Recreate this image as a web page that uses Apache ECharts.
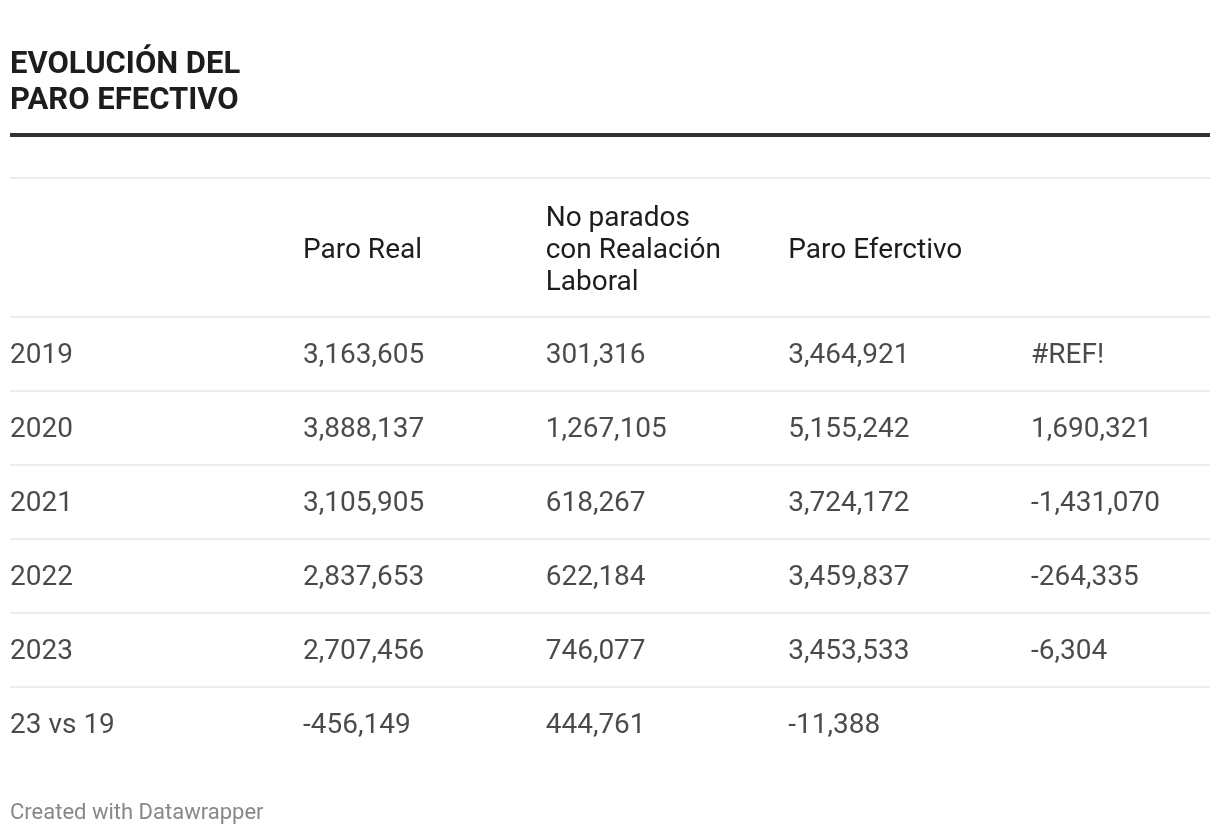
<!DOCTYPE html>
<html>
<head>
<meta charset="utf-8">
<script src="https://cdn.jsdelivr.net/npm/echarts@6/dist/echarts.min.js"></script>
<style>
html,body{margin:0;padding:0;background:#fff;}
#chart{width:1220px;height:836px;}
</style>
</head>
<body>
<div id="chart"></div>
<script>
// ---- data ----
const titleText = 'EVOLUCIÓN DEL\nPARO EFECTIVO';
const footerText = 'Created with Datawrapper';
const rowLabels = ['2019', '2020', '2021', '2022', '2023', '23 vs 19'];
const columnHeaders = ['Paro Real', 'No parados\ncon Realación\nLaboral', 'Paro Eferctivo', ''];
const paroReal = [3163605, 3888137, 3105905, 2837653, 2707456, -456149];
const noParados = [301316, 1267105, 618267, 622184, 746077, 444761];
const paroEfectivo = [3464921, 5155242, 3724172, 3459837, 3453533, -11388];
const variacion = ['#REF!', 1690321, -1431070, -264335, -6304, null];

const columnsData = [paroReal, noParados, paroEfectivo, variacion];

const FONT = 'Roboto';
const TEXT = '#1d1d1d';
const FS = 28;
const fmt = v => typeof v === 'number' ? v.toLocaleString('en-US') : String(v);

const cellLabel = {
  show: true,
  position: 'inside',
  align: 'left',
  verticalAlign: 'middle',
  offset: [0, 2],
  fontFamily: FONT,
  fontSize: FS,
  color: TEXT,
  formatter: p => fmt(p.data[2])
};

const series = columnsData.map((col, k) => ({
  type: 'scatter',
  xAxisIndex: 1,
  yAxisIndex: 1,
  symbolSize: 1,
  itemStyle: { color: 'rgba(0,0,0,0)' },
  silent: true,
  data: col.map((v, i) => v === null ? null : [k, i, v]).filter(d => d !== null),
  label: cellLabel
}));

// row-label column (first column of the table), placed at the left edge of the full-width grid
series.push({
  type: 'scatter',
  xAxisIndex: 0,
  yAxisIndex: 0,
  symbolSize: 1,
  itemStyle: { color: 'rgba(0,0,0,0)' },
  silent: true,
  data: rowLabels.map((r, i) => [0, i, r]),
  label: cellLabel
});

const chart = echarts.init(document.getElementById('chart'), null, { renderer: 'canvas' });
chart.setOption({
  animation: false,
  backgroundColor: '#fff',
  title: [
    {
      text: titleText, left: 10, top: 47, padding: 0,
      textStyle: { fontFamily: FONT, fontSize: 31, fontWeight: 'bold', lineHeight: 36, color: TEXT }
    },
    {
      text: footerText, left: 10, top: 801, padding: 0,
      textStyle: { fontFamily: FONT, fontSize: 22, fontWeight: 'normal', lineHeight: 24, color: '#888' }
    }
  ],
  graphic: [
    { type: 'rect', shape: { x: 10, y: 133, width: 1200, height: 4 }, style: { fill: '#333' }, silent: true },
    { type: 'rect', shape: { x: 10, y: 177, width: 1200, height: 2 }, style: { fill: '#ececec' }, silent: true }
  ],
  grid: [
    { left: 10, right: 10, top: 317, height: 444 },
    { left: 303, right: 189, top: 317, height: 444 }
  ],
  xAxis: [
    { gridIndex: 0, type: 'value', show: false, min: 0, max: 1 },
    {
      gridIndex: 1, type: 'category', position: 'top', boundaryGap: false,
      data: columnHeaders,
      axisLine: { show: false }, axisTick: { show: false }, splitLine: { show: false },
      axisLabel: {
        show: true, interval: 0, margin: 66, align: 'left', verticalAlign: 'middle',
        fontFamily: FONT, fontSize: FS, lineHeight: 32, color: TEXT
      }
    }
  ],
  yAxis: [
    {
      gridIndex: 0, type: 'category', inverse: true, data: rowLabels,
      axisLine: { show: false }, axisTick: { show: false }, axisLabel: { show: false },
      splitLine: { show: true, showMinLine: true, showMaxLine: false, interval: 0, lineStyle: { color: '#ececec', width: 2 } }
    },
    {
      gridIndex: 1, type: 'category', inverse: true, data: rowLabels,
      axisLine: { show: false }, axisTick: { show: false }, splitLine: { show: false },
      axisLabel: { show: false }
    }
  ],
  series: series
});
</script>
</body>
</html>
